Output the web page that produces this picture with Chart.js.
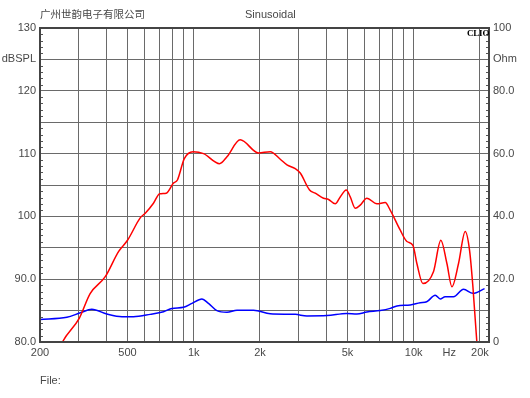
<!DOCTYPE html>
<html><head><meta charset="utf-8">
<script src="https://cdn.jsdelivr.net/npm/chart.js@4/dist/chart.umd.min.js"></script>
<style>
html,body{margin:0;padding:0;background:#fff;}
#wrap{position:relative;width:530px;height:398px;}
canvas{position:absolute;left:0;top:0;}
.t{position:absolute;font-family:"Liberation Sans",Arial,sans-serif;font-size:11px;color:#484848;white-space:nowrap;line-height:12px;}
</style></head>
<body>
<div id="wrap">
<canvas id="c" width="530" height="398"></canvas>
<div class="t" style="left:40px;top:8px;font-family:'Noto Sans CJK SC',sans-serif;font-size:10.5px;">广州世韵电子有限公司</div>
<div class="t" style="left:245px;top:8px;">Sinusoidal</div>
<div class="t" style="left:467px;top:27px;font-family:'Liberation Serif',serif;font-weight:bold;font-size:9px;color:#000;letter-spacing:-0.2px;">CLIO</div>
<div class="t" style="left:40px;top:374px;">File:</div>
</div>
<script>
// SPL response (red, left axis, dBSPL)
const splFreq = [240,253,302,338,396,455,500,572,602,656,700,750,809,843,906,993,1108,1310,1416,1627,1971,2228,2474,2654,2894,3050,3362,3567,3891,4102,4398,4635,4935,5148,5422,5714,6126,6803,7422,7820,8689,9316,9920,10340,11015,12300,13290,14160,14920,15990,17150,17950,18590,19370,19600];
const splDb   = [78,80,83.8,87.7,90.4,94.4,96.2,99.8,100.5,102.1,103.6,103.7,105.3,105.8,109.2,110.3,110.0,108.4,109.5,112.2,110.1,110.3,109.1,108.2,107.6,106.9,104.2,103.7,102.9,102.7,102.0,103.1,104.2,103.1,101.3,101.8,102.9,102.0,102.2,101.0,97.8,96.0,95.4,92.5,89.3,91.2,96.2,92.5,88.8,92.5,97.6,94.6,88.8,80,77];
// Impedance (blue, right axis, Ohm)
const impFreq = [200,265,305,344,403,472,532,634,729,796,899,982,1089,1167,1275,1416,1573,1870,2228,2894,3270,4032,4960,5521,6126,7045,7820,8390,9640,10710,11460,12530,13200,13900,15170,16850,18590,21000];
const impOhm  = [7.2,7.85,9.3,10.4,8.9,8.06,8.06,8.8,9.65,10.7,11.05,12.3,13.7,12.3,9.97,9.45,10.1,10.1,9.0,8.8,8.3,8.4,9.1,8.9,9.55,10.0,10.7,11.5,11.8,12.5,12.8,14.9,13.7,14.4,14.4,16.8,15.5,17.0];
// Tick definitions
const xGridTicks = [200,300,400,500,600,700,800,900,1000,2000,3000,4000,5000,6000,7000,8000,9000,10000,14500,20000];
const xTickLabels = {200:'200',500:'500',1000:'1k',2000:'2k',5000:'5k',10000:'10k',14500:'Hz',20000:'20k'};
const yTicks = [80,85,90,95,100,105,110,115,120,125,130];
const yTickLabels = {80:'80.0',90:'90.0',100:'100',110:'110',120:'120',125:'dBSPL',130:'130'};
const y1Ticks = [0,20,40,60,80,90,100];
const y1TickLabels = {0:'0',20:'20.0',40:'40.0',60:'60.0',80:'80.0',90:'Ohm',100:'100'};

const FONT = {family:'"Liberation Sans", Arial, sans-serif', size:11};
const TXT = '#484848';
const GRID = '#6a6a6a';

const framePlugin = {
  id:'frame',
  afterDraw(chart){
    const {ctx, chartArea:a, scales} = chart;
    ctx.save();
    ctx.strokeStyle = '#555';
    ctx.lineWidth = 1;
    // minor ticks left (1 dB) and right (2 Ohm)
    for(let v=80; v<=130; v++){
      if(v%5===0) continue;
      const y = Math.round(scales.y.getPixelForValue(v))+0.5;
      ctx.beginPath(); ctx.moveTo(a.left, y); ctx.lineTo(a.left+3, y); ctx.stroke();
    }
    for(let v=0; v<=100; v+=2){
      if(v%10===0) continue;
      const y = Math.round(scales.y1.getPixelForValue(v))+0.5;
      ctx.beginPath(); ctx.moveTo(a.right-3, y); ctx.lineTo(a.right, y); ctx.stroke();
    }
    ctx.strokeStyle = '#444';
    ctx.lineWidth = 2;
    ctx.strokeRect(a.left, a.top, a.right-a.left, a.bottom-a.top);
    ctx.restore();
  }
};

new Chart(document.getElementById('c'), {
  type:'line',
  data:{
    datasets:[
      {label:'SPL', data: splFreq.map((f,i)=>({x:f,y:splDb[i]})), yAxisID:'y',
       borderColor:'#ff0000', borderWidth:1.5, pointRadius:0, cubicInterpolationMode:'monotone', fill:false},
      {label:'Impedance', data: impFreq.map((f,i)=>({x:f,y:impOhm[i]})), yAxisID:'y1',
       borderColor:'#0000ff', borderWidth:1.5, pointRadius:0, cubicInterpolationMode:'monotone', fill:false}
    ]
  },
  options:{
    responsive:false, animation:false, devicePixelRatio:1,
    layout:{padding:{top:28,left:0,right:0,bottom:0}},
    plugins:{legend:{display:false}, tooltip:{enabled:false}},
    scales:{
      x:{type:'logarithmic', min:200, max:22000,
         afterBuildTicks(s){ s.ticks = xGridTicks.map(v=>({value:v})); },
         afterFit(s){ s.height = 56; },
         grid:{drawTicks:false, color:(c)=> (c.tick && c.tick.value===14500) ? 'rgba(0,0,0,0)' : GRID, lineWidth:1},
         border:{display:false},
         ticks:{autoSkip:false, maxRotation:0, padding:4, color:TXT, font:FONT,
                callback:(v)=> xTickLabels[v] !== undefined ? xTickLabels[v] : ''}},
      y:{type:'linear', position:'left', min:80, max:130,
         afterBuildTicks(s){ s.ticks = yTicks.map(v=>({value:v})); },
         afterFit(s){ s.width = 40; },
         grid:{drawTicks:false, color:GRID, lineWidth:1},
         border:{display:false},
         ticks:{padding:4, color:TXT, font:FONT,
                callback:(v)=> yTickLabels[v] !== undefined ? yTickLabels[v] : ''}},
      y1:{type:'linear', position:'right', min:0, max:100,
         afterBuildTicks(s){ s.ticks = y1Ticks.map(v=>({value:v})); },
         afterFit(s){ s.width = 41; },
         grid:{display:false, drawTicks:false},
         border:{display:false},
         ticks:{padding:4, color:TXT, font:FONT,
                callback:(v)=> y1TickLabels[v] !== undefined ? y1TickLabels[v] : ''}}
    }
  },
  plugins:[framePlugin]
});
</script>
</body></html>
